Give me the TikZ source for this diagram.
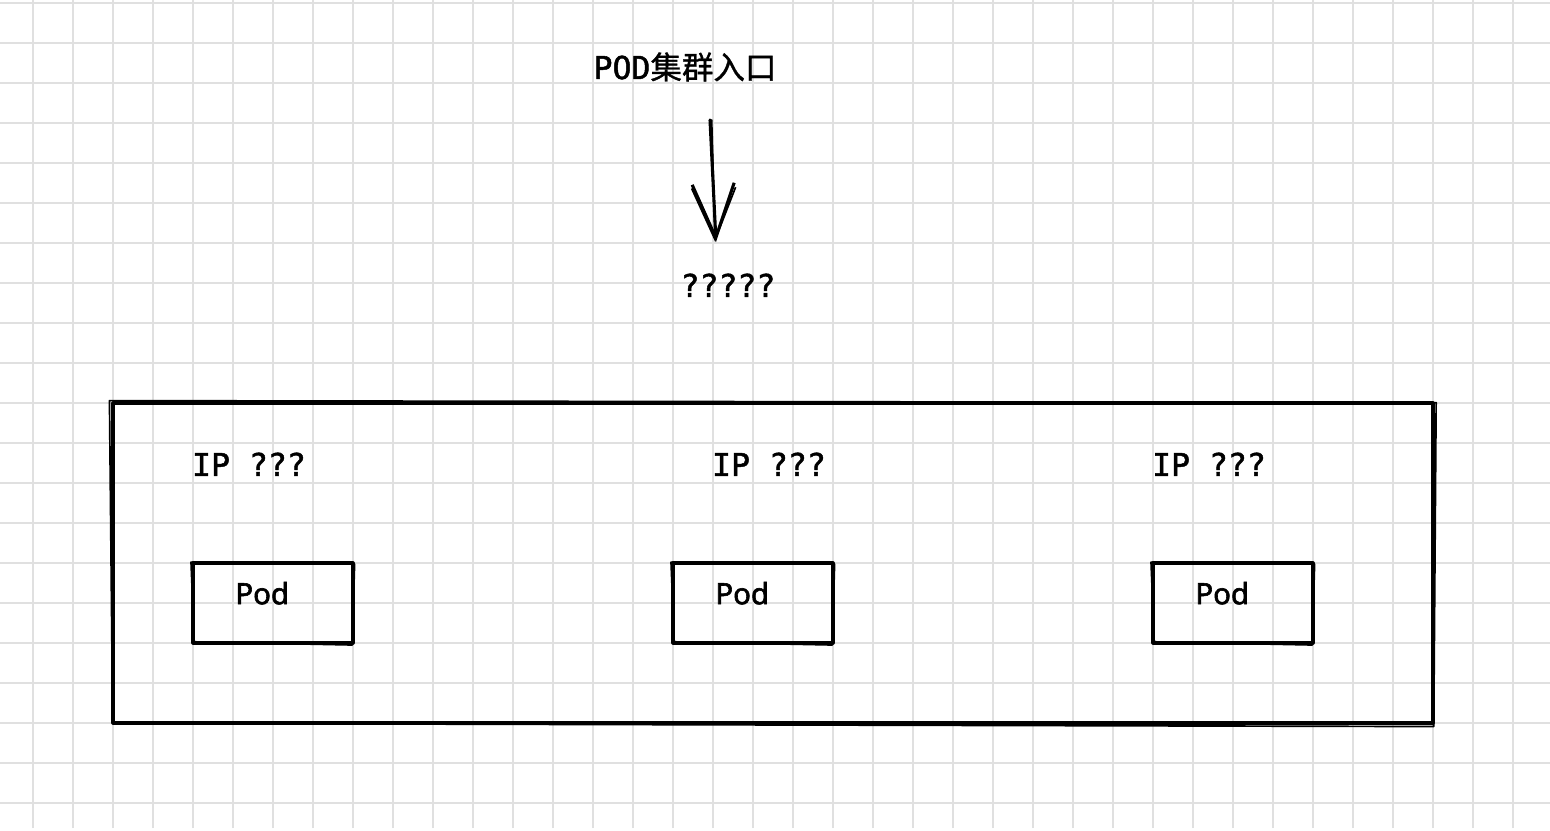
\documentclass[tikz,border=0pt]{standalone}
\usepackage{fontspec}
\setmainfont{Noto Sans}[FakeBold=2]
\newfontfamily\monofont{DejaVu Sans Mono}[FakeBold=1.5]
\newfontfamily\cjkfont{Noto Sans CJK SC}[FakeBold=1]
\usepackage{xcolor}
\usepackage{tikz}
\usetikzlibrary{arrows.meta, positioning, calc}

\definecolor{gridgray}{HTML}{E0E0E0}

% second, slightly shifted stroke for the hand-drawn look
\newcommand{\roughpass}[1]{%
  \draw[pen, line width=1.2pt] ($(#1.north west)+(-0.05,0.02)$) -- ($(#1.north east)+(0.04,-0.03)$)
    -- ($(#1.south east)+(-0.02,-0.05)$) -- ($(#1.south west)+(0.03,0.03)$) -- cycle;}

\begin{document}
\begin{tikzpicture}[
  gridline/.style={draw=gridgray, line width=1.4pt},
  pen/.style={draw=black, line width=2.2pt, line join=round, line cap=round},
  frame/.style={pen, minimum width=#1, minimum height=2cm, inner sep=0pt, outer sep=0pt},
  monotext/.style={font=\monofont\fontsize{22.4}{26}\selectfont},
  podtext/.style={font=\fontsize{20.9}{24}\selectfont},
]
\useasboundingbox (0,0) rectangle (38.75,20.75);
\fill[white] (0,0) rectangle (38.75,20.75);

% background grid
\foreach \i in {0,...,37}
  \draw[gridline] ({0.825+\i},0.05) -- ({0.825+\i},20.75);
\foreach \j in {0,...,20}
  \draw[gridline] (0,{20.675-\j}) -- (38.75,{20.675-\j});

% entry
\node[monotext] (title) at (17.125,19.075) {POD{\cjkfont 集群入口}};
\coordinate (in) at (17.75,17.75);
\coordinate (out) at (17.9,14.7);
\draw[pen, line width=2.2pt, -{Straight Barb[length=13.5mm, width=10.5mm]}] (in) -- (out);
\draw[pen, line width=1.2pt, -{Straight Barb[length=13mm, width=11mm]}] ([xshift=1.2pt]in) -- ([xshift=-0.6pt]out);
\node[monotext, anchor=base] (lb) at (18.2,13.325) {?????};

% cluster
\node[pen, draw, minimum width=33cm, minimum height=8cm, inner sep=0pt] (cluster) at (19.325,6.675) {};
\roughpass{cluster}

\node[frame=4cm, draw] (pod1) at (6.825,5.675) {};
\node[frame=4cm, draw, right=8cm of pod1] (pod2) {};
\node[frame=4cm, draw, right=8cm of pod2] (pod3) {};
\foreach \p in {pod1,pod2,pod3} {
  \roughpass{\p}
  \node[podtext, anchor=base] at ($(\p.center)+(-0.27,-0.03)$) {Pod};
}

\node[monotext, anchor=base] (ip1) at (6.225,8.85) {IP ???};
\node[monotext, anchor=base] (ip2) at (19.225,8.85) {IP ???};
\node[monotext, anchor=base] (ip3) at (30.225,8.85) {IP ???};
\end{tikzpicture}
\end{document}
